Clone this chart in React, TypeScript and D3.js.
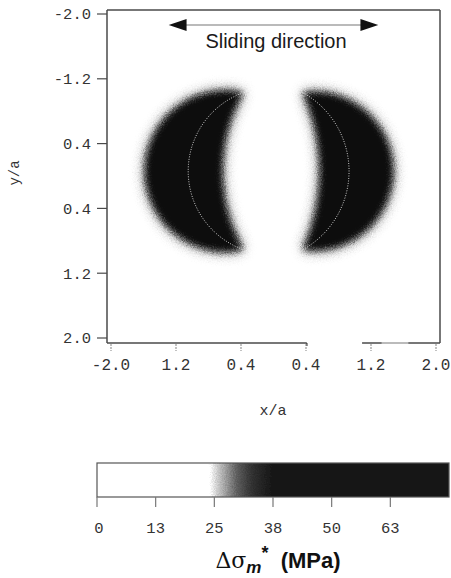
import { useMemo } from "react";
import * as d3 from "d3";

// axis ticks (labels kept as printed in the figure)
const xTicks = [-2, -1.2, -0.4, 0.4, 1.2, 2];
const xTickLabels = ["-2.0", "1.2", "0.4", "0.4", "1.2", "2.0"];
const yTicks = [-2, -1.2, -0.4, 0.4, 1.2, 2];
const yTickLabels = ["-2.0", "-1.2", "0.4", "0.4", "1.2", "2.0"];

// bottom axis line has a break in the scan
const bottomSegments = [
  [-2.05, 0.41],
  [1.09, 2.05],
];

// crescent geometry in x/a, y/a units: [tipTop, tipBottom], outer bulge, inner bulge, dotted bulge
const crescents = [
  { top: [-0.37, -1.03], bottom: [-0.37, 0.91], outer: [-1.58, -0.06], inner: [-0.63, -0.06], dotted: [-1.05, -0.06] },
  { top: [0.36, -1.03], bottom: [0.36, 0.91], outer: [1.47, -0.06], inner: [0.57, -0.06], dotted: [0.93, -0.06] },
];

// colour bar
const barTicks = [0, 12.5, 25, 37.5, 50, 62.5];
const barTickLabels = ["0", "13", "25", "38", "50", "63"];
const barStops = [0, 24.5, 26, 28, 30, 33, 37, 75];
const barGrays = [255, 255, 205, 150, 95, 50, 25, 22];

type P = number[];

// sample a circular arc through three points
function arcThrough(a: P, m: P, b: P, n = 60): P[] {
  const [ax, ay] = a, [bx, by] = m, [cx, cy] = b;
  const d = 2 * (ax * (by - cy) + bx * (cy - ay) + cx * (ay - by));
  const ux = ((ax * ax + ay * ay) * (by - cy) + (bx * bx + by * by) * (cy - ay) + (cx * cx + cy * cy) * (ay - by)) / d;
  const uy = ((ax * ax + ay * ay) * (cx - bx) + (bx * bx + by * by) * (ax - cx) + (cx * cx + cy * cy) * (bx - ax)) / d;
  const r = Math.hypot(ax - ux, ay - uy);
  const a0 = Math.atan2(ay - uy, ax - ux);
  const am = Math.atan2(by - uy, bx - ux);
  const a1 = Math.atan2(cy - uy, cx - ux);
  const TAU = Math.PI * 2;
  const t = (v: number) => (((v - a0) % TAU) + TAU) % TAU;
  const sweep = t(am) < t(a1) ? t(a1) : -(TAU - t(a1));
  return d3.range(n + 1).map((i) => {
    const ang = a0 + (sweep * i) / n;
    return [ux + r * Math.cos(ang), uy + r * Math.sin(ang)];
  });
}

export default function App() {
  const width = 451;
  const height = 578;

  const x = d3.scaleLinear().domain([-2, 2]).range([111, 436]);
  const y = d3.scaleLinear().domain([-2, 2]).range([14, 338]);
  const c = d3.scaleLinear().domain([0, 75]).range([97, 449]);

  const frame = { left: 107, right: 440, top: 10, bottom: 343 };

  const line = d3
    .line<P>()
    .x((d) => x(d[0]))
    .y((d) => y(d[1]));

  const shapes = useMemo(
    () =>
      crescents.map((cr) => {
        const outer = arcThrough(cr.top, cr.outer, cr.bottom);
        const inner = arcThrough(cr.bottom, cr.inner, cr.top);
        const dotted = arcThrough(cr.top, cr.dotted, cr.bottom);
        return {
          body: line([...outer, ...inner]) + "Z",
          dotted: line(dotted) as string,
        };
      }),
    []
  );

  const mono = "'Liberation Mono', 'DejaVu Sans Mono', monospace";
  const sans = "'Liberation Sans', Arial, sans-serif";
  const axisColor = "#4a4a4a";

  return (
    <svg width={width} height={height} style={{ position: "absolute", left: 0, top: 0, background: "#fff" }}>
      <defs>
        <filter id="grain" x="-20%" y="-20%" width="140%" height="140%">
          <feGaussianBlur in="SourceGraphic" stdDeviation="3.2" result="blur" />
          <feTurbulence type="fractalNoise" baseFrequency="0.9" numOctaves="2" seed="3" result="noise" />
          <feDisplacementMap in="blur" in2="noise" scale="6" xChannelSelector="R" yChannelSelector="G" />
        </filter>
        <filter id="halo" x="-30%" y="-30%" width="160%" height="160%">
          <feGaussianBlur in="SourceGraphic" stdDeviation="7" result="blur" />
          <feTurbulence type="fractalNoise" baseFrequency="0.8" numOctaves="2" seed="7" result="noise" />
          <feDisplacementMap in="blur" in2="noise" scale="9" xChannelSelector="R" yChannelSelector="G" />
        </filter>
        <filter id="barGrain" x="0" y="0" width="100%" height="100%">
          <feTurbulence type="fractalNoise" baseFrequency="0.9" numOctaves="2" seed="5" result="noise" />
          <feDisplacementMap in="SourceGraphic" in2="noise" scale="8" xChannelSelector="R" yChannelSelector="G" />
        </filter>
        <linearGradient id="barGrad" x1="0" x2="1" y1="0" y2="0">
          {barStops.map((s, i) => (
            <stop key={i} offset={s / 75} stopColor={d3.rgb(barGrays[i], barGrays[i], barGrays[i]).formatHex()} />
          ))}
        </linearGradient>
        <clipPath id="barClip">
          <rect x={c(0)} y={463} width={c(75) - c(0)} height={34} />
        </clipPath>
      </defs>

      {/* crescents */}
      {shapes.map((s, i) => (
        <g key={i}>
          <path d={s.body} fill="#111" opacity={0.6} filter="url(#halo)" />
          <path d={s.body} fill="#111" filter="url(#grain)" />
          <path d={s.dotted} fill="none" stroke="#e0e0e0" strokeWidth={1} strokeDasharray="1 1.5" opacity={0.9} />
        </g>
      ))}

      {/* frame */}
      <line x1={frame.left} x2={frame.right} y1={frame.top} y2={frame.top} stroke={axisColor} strokeWidth={1.5} />
      <line x1={frame.left} x2={frame.left} y1={frame.top} y2={frame.bottom} stroke={axisColor} strokeWidth={1.5} />
      <line x1={frame.right} x2={frame.right} y1={frame.top} y2={frame.bottom} stroke={axisColor} strokeWidth={1.5} />
      {bottomSegments.map((s, i) => (
        <line key={i} x1={Math.max(frame.left, x(s[0]))} x2={Math.min(frame.right, x(s[1]))} y1={frame.bottom} y2={frame.bottom} stroke={axisColor} strokeWidth={1.5} />
      ))}
      <line x1={x(1.33)} x2={x(1.66)} y1={frame.bottom} y2={frame.bottom} stroke="#bbb" strokeWidth={2} />
      <line x1={x(0.41)} x2={x(0.41)} y1={frame.bottom} y2={frame.bottom + 3} stroke={axisColor} strokeWidth={1.5} />

      {/* y ticks */}
      {yTicks.map((t, i) => (
        <g key={i}>
          <line x1={frame.left - 10} x2={frame.left} y1={y(t)} y2={y(t)} stroke={axisColor} strokeWidth={1.2} />
          <text x={frame.left - 16} y={y(t)} dy="0.35em" textAnchor="end" fontFamily={mono} fontSize={15.5} fill="#333">
            {yTickLabels[i]}
          </text>
        </g>
      ))}

      {/* x ticks */}
      {xTicks.map((t, i) => (
        <g key={i}>
          <line x1={x(t)} x2={x(t)} y1={frame.bottom + 1} y2={frame.bottom + 8} stroke="#999" strokeWidth={1.2} strokeDasharray="2 1" />
          <text x={x(t)} y={370} textAnchor="middle" fontFamily={mono} fontSize={16} fill="#333">
            {xTickLabels[i]}
          </text>
        </g>
      ))}

      <text x={273} y={415} textAnchor="middle" fontFamily={mono} fontSize={15} fill="#333">
        x/a
      </text>
      <text transform="translate(19,173) rotate(-90)" textAnchor="middle" fontFamily={mono} fontSize={14} fill="#333">
        y/a
      </text>

      {/* sliding direction arrow */}
      <line x1={x(-1.15)} x2={x(1.15)} y1={25} y2={25} stroke="#777" strokeWidth={1.2} />
      <path d={`M${x(-1.29)},25 L${x(-1.07)},19 L${x(-1.07)},31 Z`} fill="#111" />
      <path d={`M${x(1.29)},25 L${x(1.07)},19 L${x(1.07)},31 Z`} fill="#111" />
      <text x={276} y={48} textAnchor="middle" fontFamily={sans} fontSize={20} fill="#1a1a1a">
        Sliding direction
      </text>

      {/* colour bar */}
      <g clipPath="url(#barClip)">
        <rect x={c(0) - 6} y={457} width={c(75) - c(0) + 12} height={46} fill="url(#barGrad)" filter="url(#barGrain)" />
      </g>
      <rect x={c(0)} y={463} width={c(75) - c(0)} height={34} fill="none" stroke="#555" strokeWidth={1.2} />
      {barTicks.map((t, i) => (
        <g key={i}>
          <line x1={c(t)} x2={c(t)} y1={497} y2={507} stroke="#777" strokeWidth={1.2} />
          <text x={c(t) + (i === 0 ? 2 : 0)} y={533} textAnchor="middle" fontFamily={mono} fontSize={15.5} fill="#333">
            {barTickLabels[i]}
          </text>
        </g>
      ))}
      <text x={278} y={568} textAnchor="middle" fontFamily={sans} fontSize={22} fontWeight="bold" fill="#111">
        <tspan fontWeight="normal" fontFamily="'DejaVu Serif', serif">Δσ</tspan>
        <tspan fontStyle="italic" fontSize={17} dy={5}>m</tspan>
        <tspan fontSize={18} dy={-14}>*</tspan>
        <tspan dy={9}>{"\u00a0\u00a0(MPa)"}</tspan>
      </text>
    </svg>
  );
}
